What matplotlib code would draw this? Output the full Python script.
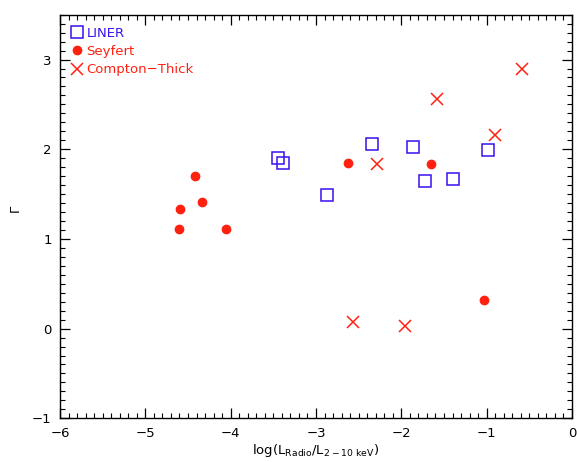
import matplotlib
matplotlib.use("Agg")
import matplotlib.pyplot as plt
from matplotlib.ticker import MultipleLocator

plt.rcParams['font.family'] = ['DejaVu Sans']
plt.rcParams['mathtext.default'] = 'regular'

liner_x = [-3.45, -3.39, -2.87, -2.34, -1.86, -1.72, -1.40, -0.99]
liner_y = [1.90, 1.85, 1.49, 2.06, 2.03, 1.65, 1.67, 1.99]

seyfert_x = [-4.42, -4.34, -4.59, -4.60, -4.06, -2.62, -1.65, -1.03]
seyfert_y = [1.70, 1.41, 1.33, 1.11, 1.11, 1.85, 1.83, 0.32]

ct_x = [-0.59, -1.58, -0.90, -2.29, -2.57, -1.96]
ct_y = [2.90, 2.56, 2.16, 1.83, 0.07, 0.03]

blue = '#3A10F0'
red = '#FF2010'

fig = plt.figure(figsize=(5.77, 4.62), dpi=100)
ax = fig.add_axes([60/577, 1-418.3/462, (572-60)/577, (418.3-14.7)/462])

ax.plot(liner_x, liner_y, linestyle='none', marker='s', markersize=8,
        markerfacecolor='none', markeredgecolor=blue, markeredgewidth=1.1, label='LINER')
ax.plot(seyfert_x, seyfert_y, linestyle='none', marker='o', markersize=6,
        color=red, label='Seyfert')
ax.plot(ct_x, ct_y, linestyle='none', marker='x', markersize=8,
        color=red, markeredgewidth=1.1, label='Compton\u2212Thick')

ax.set_xlim(-6, 0)
ax.set_ylim(-1, 3.5)
ax.xaxis.set_major_locator(MultipleLocator(1))
ax.xaxis.set_minor_locator(MultipleLocator(0.1))
ax.yaxis.set_major_locator(MultipleLocator(1))
ax.yaxis.set_minor_locator(MultipleLocator(0.1))
ax.tick_params(which='both', direction='in', top=True, right=True, labelsize=9.5, pad=6)
ax.tick_params(which='major', length=7, width=0.9)
ax.tick_params(which='minor', length=3.6, width=0.8)
for s in ax.spines.values():
    s.set_linewidth(1.0)

ax.set_xlabel(r'log(L$_{\rm Radio}$/L$_{\rm 2-10\ keV}$)', fontsize=9.5, labelpad=2)
ax.set_ylabel('\u0393', fontsize=9.5)
ax.yaxis.set_label_coords(-0.075, 0.52)

leg = ax.legend(loc='upper left', frameon=False, fontsize=9.5, handlelength=0.8,
                handletextpad=0.3, labelspacing=0.4, borderaxespad=0.8,
                borderpad=0.1, labelcolor='linecolor')
for t in leg.get_texts():
    if t.get_text() == 'LINER':
        t.set_color(blue)

fig.savefig('out.png', dpi=100)
